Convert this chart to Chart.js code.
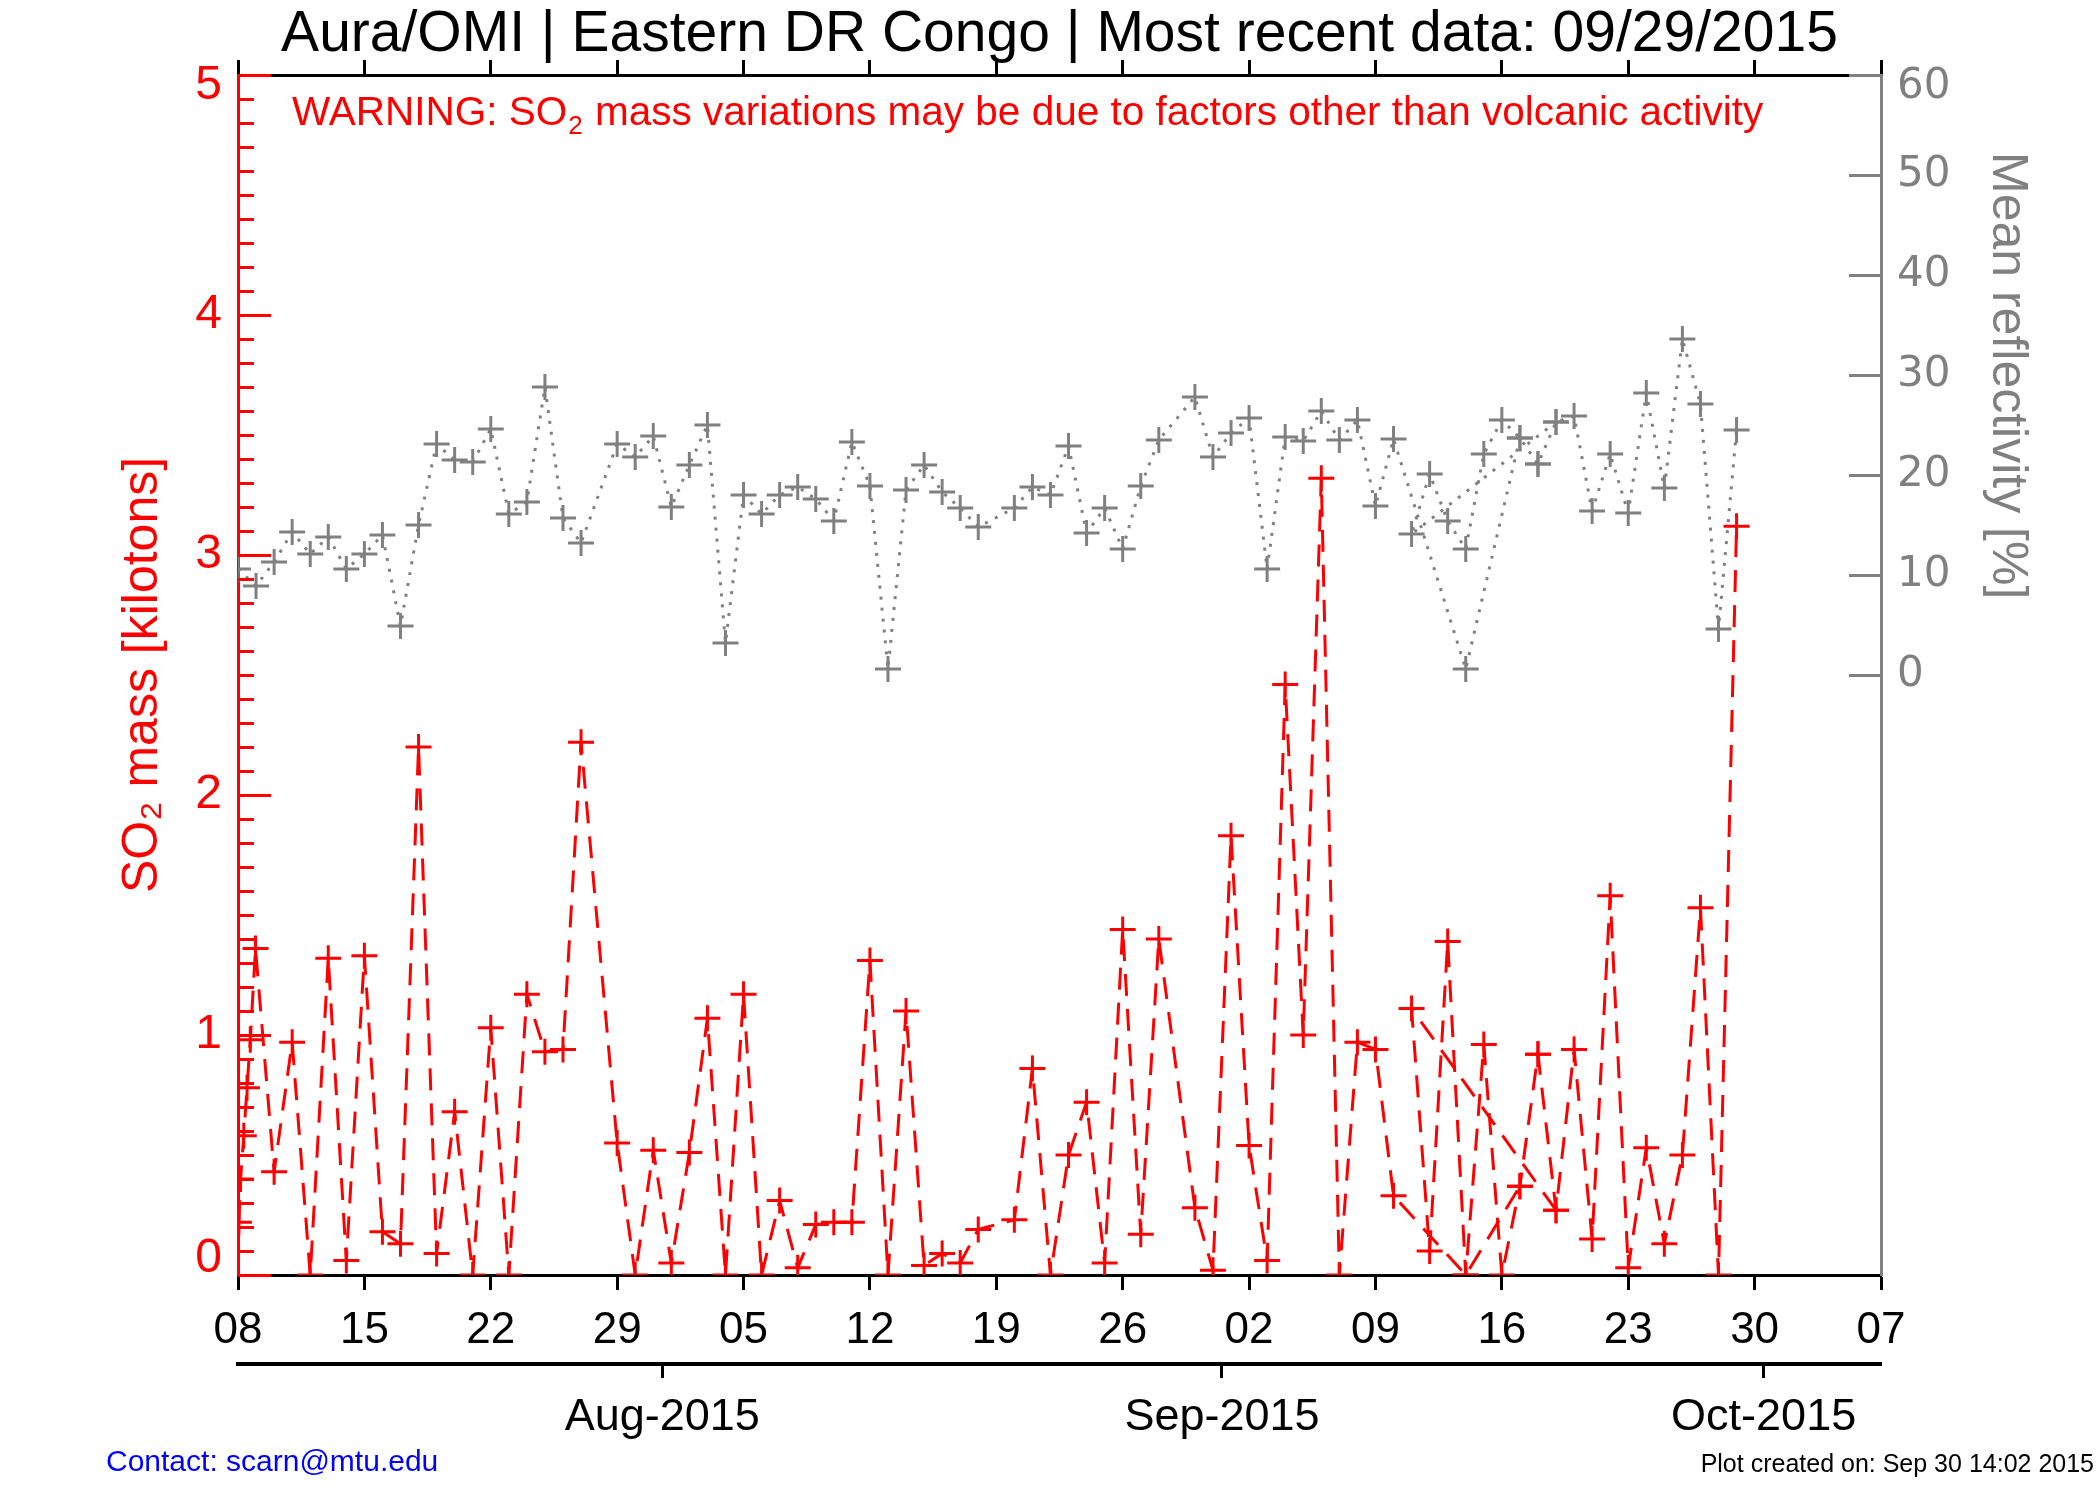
<!DOCTYPE html>
<html>
<head>
<meta charset="utf-8">
<script src="https://cdn.jsdelivr.net/npm/chart.js@4.4.1/dist/chart.umd.min.js"></script>
<style>
  html, body { margin: 0; padding: 0; background: #ffffff; }
  #wrap { position: relative; width: 2100px; height: 1500px; }
  canvas { display: block; }
</style>
</head>
<body>
<div id="wrap"><canvas id="c" width="2100" height="1500" style="width:2100px;height:1500px"></canvas></div>
<script>
// ---- data (x = days since 8 Jul 2015, 12:00; listed in the order the source file plots them) ----
const redDays = [0.05,0.14,0.32,0.50,0.68,0.97,2,3,4,5,6,7,8,9,10,11,12,13,14,15,16,17,18,19,21,22,23,24,25,26,27,28,29,30,31,32,33,34,35,36,37,38,39,40,41,43,44,45,46,47,48,49,50,51,53,54,55,56,57,58,59,60,61,62,63,64,68,71,72,73,65,66,67,68,69,70,71,72,73,74,75,76,77,78,79,80,81,82,83];
const redMass = [0.22,0.40,0.58,0.78,0.98,1.36,0.43,0.97,0,1.32,0.06,1.33,0.18,0.13,2.20,0.09,0.68,0,1.03,0,1.17,0.93,0.94,2.22,0.55,0,0.52,0.05,0.51,1.07,0,1.17,0,0.31,0.03,0.21,0.22,0.22,1.31,0,1.10,0.04,0.09,0.05,0.19,0.23,0.86,0,0.50,0.72,0.05,1.44,0.17,1.40,0.28,0.02,1.83,0.54,0.06,2.46,1.00,3.32,0,0.97,0.94,0.33,0,0.37,0.92,0.27,1.11,0.10,1.39,0,0.96,0,0.37,0.92,0.27,0.94,0.15,1.58,0.03,0.53,0.13,0.50,1.53,0,3.12];
const grayDays = [0,1,2,3,4,5,6,7,8,9,10,11,12,13,14,15,16,17,18,19,21,22,23,24,25,26,27,28,29,30,31,32,33,34,35,36,37,38,39,40,41,43,44,45,46,47,48,49,50,51,53,54,55,56,57,58,59,60,61,62,63,64,68,71,72,73,65,66,67,68,69,70,71,72,73,74,75,76,77,78,79,80,81,82,83];
const grayRefl = [10.6,8.9,11.3,14.3,12.1,13.8,10.6,12.1,14.0,4.9,15.0,23.1,21.5,21.3,24.6,16.1,17.3,28.8,15.7,13.2,23.1,21.8,23.9,16.8,21.0,25.0,3.2,18.0,16.1,18.0,18.8,17.6,15.4,23.3,18.9,0.6,18.5,21.0,18.3,16.7,14.8,16.7,18.8,18.0,22.9,14.2,16.7,12.6,18.9,23.5,27.8,21.8,24.2,25.7,10.6,23.8,23.4,26.4,23.5,25.5,16.9,23.6,0.6,23.7,21.1,25.3,14.1,20.1,15.4,12.6,22.1,25.5,23.7,21.1,25.3,25.9,16.4,22.1,16.2,28.2,18.7,33.6,27.1,4.6,24.5];

// ---- tick labels ----
const weekTickDays = [0,7,14,21,28,35,42,49,56,63,70,77,84,91];
const weekLabels = ['08','15','22','29','05','12','19','26','02','09','16','23','30','07'];
const monthTickDays = [23.5,54.5,84.5];
const monthLabels = ['Aug-2015','Sep-2015','Oct-2015'];
const massTicks = [0,1,2,3,4,5];
const reflTicks = [0,10,20,30,40,50,60];

const titleText = 'Aura/OMI | Eastern DR Congo | Most recent data: 09/29/2015';
const FONT = "'Liberation Sans', Arial, Helvetica, sans-serif";
const WIDE = "'DejaVu Sans', 'Liberation Sans', sans-serif";
const RED = '#ff0000', GRAY = '#808080';

const redData = redDays.map((d, i) => ({x: d, y: redMass[i]}));
const grayData = grayDays.map((d, i) => ({x: d, y: grayRefl[i]}));

// a segment that is repeated later in the same series is drawn only once
function repeatedSegments(days, vals) {
  const keys = days.map((d, i) => i < days.length - 1 ? d + ',' + vals[i] + '>' + days[i + 1] + ',' + vals[i + 1] : null);
  return keys.map((k, i) => k !== null && keys.indexOf(k, i + 1) > -1);
}
const redRepeat = repeatedSegments(redDays, redMass);
const grayRepeat = repeatedSegments(grayDays, grayRefl);

// end labels of the axes are nudged inside the frame (empty spacer line)
const massLabel = v => v === massTicks[massTicks.length - 1] ? ['', String(v)] : (v === massTicks[0] ? [String(v), ''] : String(v));
const massFont = c => {
  const v = c.tick ? c.tick.value : null;
  if (v === massTicks[massTicks.length - 1]) return { size: 48, family: FONT, lineHeight: '22px' };
  if (v === massTicks[0]) return { size: 48, family: FONT, lineHeight: '32px' };
  return { size: 48, family: FONT };
};
const reflLabel = v => v === reflTicks[reflTicks.length - 1] ? ['', String(v)] : String(v);
const reflFont = c => {
  const v = c.tick ? c.tick.value : null;
  if (v === reflTicks[reflTicks.length - 1]) return { size: 42, family: WIDE, lineHeight: '24px' };
  return { size: 42, family: WIDE };
};

const extras = {
  id: 'extras',
  afterDraw(chart) {
    const ctx = chart.ctx;
    const ca = chart.chartArea;
    const y = chart.scales.y, y2 = chart.scales.y2;
    ctx.save();
    // inward ticks on the left (mass) axis
    ctx.strokeStyle = RED; ctx.lineWidth = 3;
    for (let i = 0; i <= 50; i++) {
      const py = Math.round(y.getPixelForValue(i / 10)) + 0.5;
      const len = (i % 10 === 0) ? 33 : 16;
      ctx.beginPath(); ctx.moveTo(ca.left, py); ctx.lineTo(ca.left + len, py); ctx.stroke();
    }
    // inward ticks on the right (reflectivity) axis
    ctx.strokeStyle = GRAY;
    reflTicks.forEach(v => {
      const py = Math.round(y2.getPixelForValue(v)) + 0.5;
      ctx.beginPath(); ctx.moveTo(ca.right - 32, py); ctx.lineTo(ca.right, py); ctx.stroke();
    });
    // warning text with subscript
    ctx.fillStyle = RED; ctx.textBaseline = 'alphabetic'; ctx.textAlign = 'left';
    let x = 292; const by = 125;
    ctx.font = '40.5px ' + FONT;
    const p1 = 'WARNING: SO';
    ctx.fillText(p1, x, by); x += ctx.measureText(p1).width;
    ctx.font = '26px ' + FONT;
    ctx.fillText('2', x + 1, by + 9); x += ctx.measureText('2').width + 2;
    ctx.font = '40.5px ' + FONT;
    ctx.fillText(' mass variations may be due to factors other than volcanic activity', x, by);
    // right axis title
    ctx.save();
    ctx.translate(2007, 152); ctx.rotate(Math.PI / 2);
    ctx.fillStyle = GRAY; ctx.font = '50px ' + FONT; ctx.textBaseline = 'middle'; ctx.textAlign = 'left';
    ctx.fillText('Mean reflectivity [%]', 0, 0);
    ctx.restore();
    // footer texts
    ctx.fillStyle = '#0000ff'; ctx.font = '30px ' + FONT; ctx.textBaseline = 'alphabetic'; ctx.textAlign = 'left';
    ctx.fillText('Contact: scarn@mtu.edu', 106, 1471);
    ctx.fillStyle = '#000000'; ctx.font = '25px ' + FONT; ctx.textAlign = 'right';
    ctx.fillText('Plot created on: Sep 30 14:02 2015', 2094, 1472);
    ctx.restore();
  }
};

Chart.defaults.font.family = FONT;

new Chart(document.getElementById('c'), {
  type: 'line',
  data: {
    datasets: [
      {
        label: 'SO2 mass', data: redData, yAxisID: 'y', xAxisID: 'x',
        borderColor: RED, backgroundColor: RED, borderWidth: 3, borderDash: [22, 13],
        pointStyle: 'cross', pointRadius: 13, pointBorderWidth: 3, pointBorderColor: RED,
        fill: false, tension: 0,
        segment: { borderColor: c => redRepeat[c.p0DataIndex] ? 'rgba(0,0,0,0)' : undefined }
      },
      {
        label: 'Mean reflectivity', data: grayData, yAxisID: 'y2', xAxisID: 'x',
        borderColor: GRAY, backgroundColor: GRAY, borderWidth: 3, borderDash: [3, 8],
        pointStyle: 'cross', pointRadius: 13, pointBorderWidth: 3, pointBorderColor: GRAY,
        fill: false, tension: 0,
        segment: { borderColor: c => grayRepeat[c.p0DataIndex] ? 'rgba(0,0,0,0)' : undefined }
      }
    ]
  },
  options: {
    responsive: false, animation: false, devicePixelRatio: 1,
    events: [],
    layout: { padding: 0 },
    plugins: {
      legend: { display: false },
      tooltip: { enabled: false },
      title: {
        display: true, text: titleText, color: '#000000', fullSize: false,
        font: { size: 57, family: FONT, weight: 'normal', lineHeight: 1 },
        padding: { top: 7, bottom: 0 }
      }
    },
    scales: {
      x: {
        type: 'linear', position: 'bottom', min: 0, max: 91, weight: 0,
        afterBuildTicks: s => { s.ticks = weekTickDays.map(v => ({ value: v })); },
        afterFit: s => { s.height = 89; },
        ticks: { autoSkip: false, maxRotation: 0, color: '#000000', font: { size: 44 }, padding: 14,
                 callback: (v, i) => weekLabels[i] },
        grid: { drawOnChartArea: false, drawTicks: true, tickLength: 15, tickColor: '#000000', tickWidth: 3 },
        border: { display: true, color: '#000000', width: 3 }
      },
      x2: {
        type: 'linear', position: 'bottom', min: 0, max: 91, weight: 1,
        afterBuildTicks: s => { s.ticks = monthTickDays.map(v => ({ value: v })); },
        afterFit: s => { s.height = 136; },
        ticks: { autoSkip: false, maxRotation: 0, color: '#000000', font: { size: 45 }, padding: 13,
                 callback: (v, i) => monthLabels[i] },
        grid: { drawOnChartArea: false, drawTicks: true, tickLength: 14, tickColor: '#000000', tickWidth: 3 },
        border: { display: true, color: '#000000', width: 4 }
      },
      xTop: {
        type: 'linear', position: 'top', min: 0, max: 91,
        afterBuildTicks: s => { s.ticks = weekTickDays.map(v => ({ value: v })); },
        afterFit: s => { s.height = 11; },
        ticks: { display: false },
        grid: { drawOnChartArea: false, drawTicks: true, tickLength: 15, tickColor: '#000000', tickWidth: 3 },
        border: { display: true, color: '#000000', width: 3 }
      },
      y: {
        type: 'linear', position: 'left', min: 0, max: 5,
        afterBuildTicks: s => { s.ticks = massTicks.map(v => ({ value: v })); },
        afterFit: s => { s.width = 238; },
        ticks: { color: RED, font: massFont, padding: 16, callback: v => massLabel(v) },
        grid: { display: false, drawTicks: false },
        border: { display: true, color: RED, width: 3 },
        title: { display: true, text: 'SO₂ mass [kilotons]', color: RED,
                 font: { size: 50, lineHeight: 1.2 }, padding: { top: 113, bottom: 0 } }
      },
      y2: {
        type: 'linear', position: 'right', min: -60, max: 60,
        afterBuildTicks: s => { s.ticks = reflTicks.map(v => ({ value: v })); },
        afterFit: s => { s.width = 219; },
        ticks: { color: GRAY, font: reflFont, padding: 16, callback: v => reflLabel(v) },
        grid: { display: false, drawTicks: false },
        border: { display: true, color: GRAY, width: 3 }
      }
    }
  },
  plugins: [extras]
});
</script>
</body>
</html>
